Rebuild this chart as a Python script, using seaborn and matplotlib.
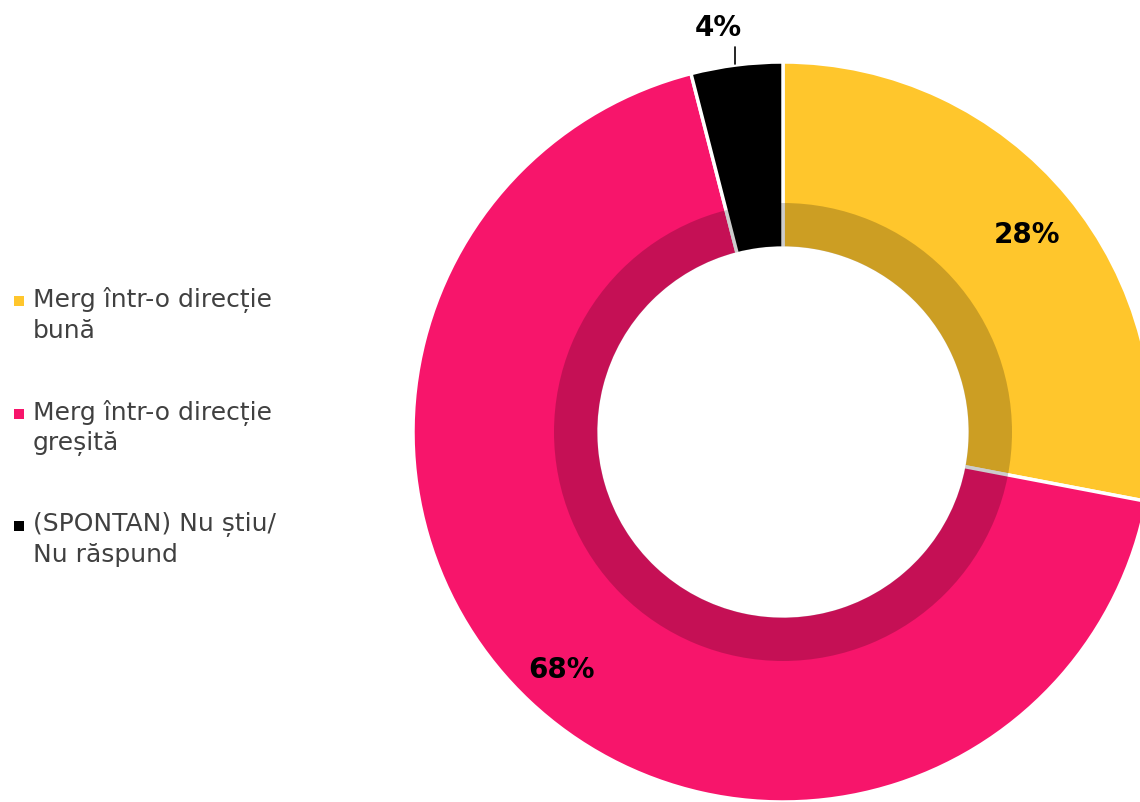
import matplotlib
matplotlib.use('Agg')
import matplotlib.pyplot as plt
import seaborn as sns

# date: direcția în care merg lucrurile
categorii = ['Merg într-o direcție\nbună',
             'Merg într-o direcție\ngreșită',
             '(SPONTAN) Nu știu/\nNu răspund']
procente = [28, 68, 4]
culori = ['#FFC62C', '#F7156B', '#000000']

sns.set_style('white')
plt.rcParams['font.family'] = ['DejaVu Sans']

fig = plt.figure(figsize=(11.4, 8.02), dpi=100)
ax = fig.add_axes([0, 0, 1, 1])

centru = (783, 802 - 432)
raza = 370
gaura = 184

ax.pie(procente, colors=culori, startangle=90, counterclock=False,
       center=centru, radius=raza, frame=True,
       wedgeprops=dict(width=raza - gaura, edgecolor='white', linewidth=2.5))

# inel interior mai închis (umbră transparentă)
ax.pie([1], colors=['black'], center=centru, radius=229, frame=True,
       wedgeprops=dict(width=229 - gaura - 1.5, alpha=0.2, linewidth=0, edgecolor='none'))
ax.set_xlim(0, 1140)
ax.set_ylim(0, 802)
ax.set_aspect('equal')
ax.axis('off')

# etichete procentuale
eticheta = dict(fontsize=20, fontweight='bold', color='black', ha='center', va='center')
ax.text(1027, 802 - 235, f'{procente[0]}%', **eticheta)
ax.text(561, 802 - 670, f'{procente[1]}%', **eticheta)
ax.text(718, 802 - 28, f'{procente[2]}%', **eticheta)
ax.plot([735, 735], [802 - 47, 802 - 64], color='black', lw=1.2)

# legenda, desenată manual (pătratul aliniat cu primul rând)
for i, (text, culoare) in enumerate(zip(categorii, culori)):
    y = 802 - (300 + i * 112.5)
    ax.scatter(19, y - 1, marker='s', s=60, color=culoare, linewidths=0)
    ax.text(33, y + 13, text, fontsize=18, color='#404040', ha='left', va='top',
            linespacing=1.3)

fig.savefig('out.png', dpi=100)
